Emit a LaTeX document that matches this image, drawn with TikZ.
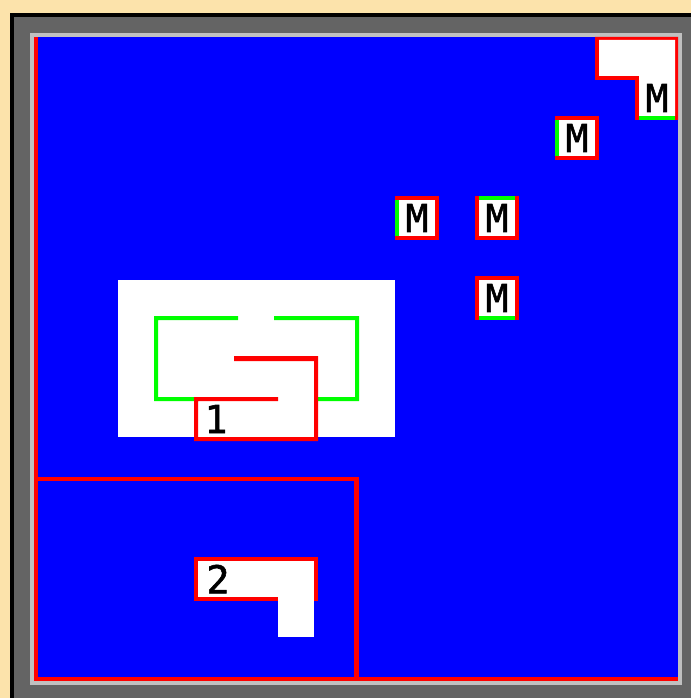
\documentclass[tikz,border=0pt]{standalone}
\usepackage{fontspec}
\newfontfamily\pixfont[FakeBold=1.5]{DejaVu Sans Mono}
\definecolor{parch}{HTML}{FCE3AB}
\definecolor{frameg}{HTML}{646464}
\definecolor{edgeg}{HTML}{C0C0C0}
\definecolor{rd}{HTML}{FF0000}
\definecolor{gr}{HTML}{00FF00}
\definecolor{bl}{HTML}{0000FF}
\tikzset{
  rbar/.style={fill=rd,draw=none},
  gbar/.style={fill=gr,draw=none},
  wfill/.style={fill=white,draw=none},
  glyph/.style={font=\pixfont\fontsize{38.4}{38.4}\selectfont,text=black,inner sep=0pt,anchor=center},
}
% cell at upper-left (x,y): 44 px box with 4 px red walls
\newcommand{\mcell}[3]{%
  \fill[rbar] (#1,#2) rectangle ++(44,44);
  \fill[wfill] (#1+4,#2+4) rectangle ++(36,36);
  \node[glyph] (#3) at (#1+22,#2+22) {M};
}
\begin{document}
\begin{tikzpicture}[x=1pt,y=-1pt]
\useasboundingbox (0,0) rectangle (691,698);
\fill[parch] (0,0) rectangle (691,698);
\fill[black] (10,13) rectangle (691,698);
\fill[frameg] (14,17) rectangle (691,698);
\fill[edgeg] (30,33) rectangle (682,685);
\fill[bl] (34,37) rectangle (678,681);
% outer red lines
\fill[rbar] (34,37) rectangle (38,681);
\fill[rbar] (34,677) rectangle (678,681);
\fill[rbar] (34,477) rectangle (359,481);
\fill[rbar] (354,477) rectangle (359,681);
% top-right L room
\fill[rbar] (595,37) -- (678,37) -- (678,120) -- (635,120) -- (635,80) -- (595,80) -- cycle;
\fill[wfill] (599,40) -- (675,40) -- (675,116) -- (639,116) -- (639,76) -- (599,76) -- cycle;
\fill[gbar] (639,116) rectangle (675,120);
\node[glyph] (m1) at (657,98) {M};
% single cells
\mcell{555}{116}{m2}
\fill[gbar] (555,120) rectangle (559,156);
\mcell{395}{196}{m3}
\fill[gbar] (395,200) rectangle (399,236);
\mcell{475}{196}{m4}
\fill[gbar] (479,196) rectangle (515,200);
\mcell{475}{276}{m5}
\fill[gbar] (479,316) rectangle (515,320);
% room 1
\fill[wfill] (118,280) rectangle (395,437);
\fill[gbar] (238,316) -- (154,316) -- (154,401) -- (198,401) -- (198,397) -- (158,397) -- (158,320) -- (238,320) -- cycle;
\fill[gbar] (274,316) -- (359,316) -- (359,401) -- (314,401) -- (314,397) -- (355,397) -- (355,320) -- (274,320) -- cycle;
\fill[rbar] (234,356) -- (318,356) -- (318,441) -- (194,441) -- (194,397) -- (278,397) -- (278,401) -- (198,401) -- (198,437) -- (314,437) -- (314,361) -- (234,361) -- cycle;
\node[glyph] (n1) at (216,419) {1};
% room 2
\fill[rbar] (194,557) rectangle (318,601);
\fill[wfill] (198,561) rectangle (314,597);
\fill[wfill] (278,597) rectangle (314,637);
\node[glyph] (n2) at (218,579) {2};
\end{tikzpicture}
\end{document}
